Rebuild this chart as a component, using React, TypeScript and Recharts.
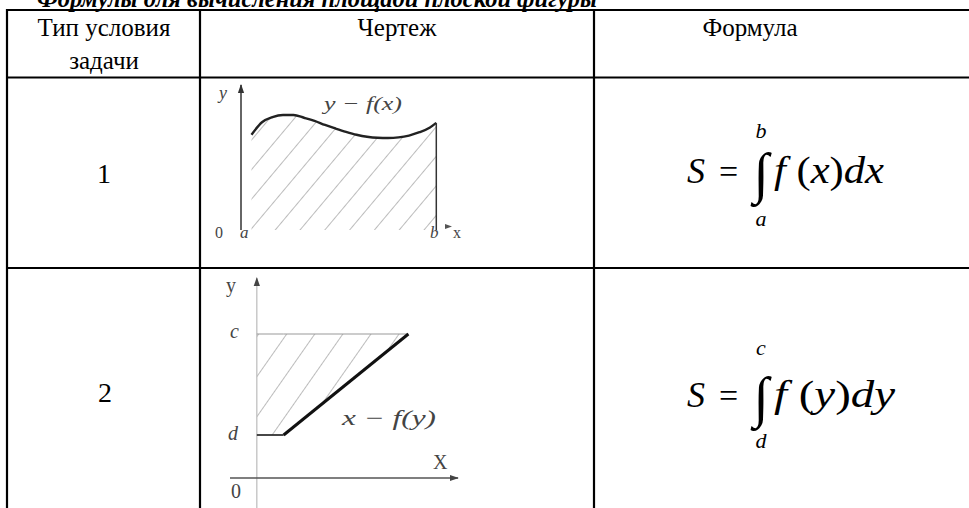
import React from 'react';
import { ComposedChart, Area, Line, XAxis, YAxis, ReferenceLine } from 'recharts';

// заголовок и шапка таблицы
const title = 'Формулы для вычисления площади плоской фигуры';
const headerType = ['Тип условия', 'задачи'];
const headerDrawing = 'Чертеж';
const headerFormula = 'Формула';
const rowLabels = ['1', '2'];

// чертеж 1: криволинейная трапеция под y = f(x) на [a, b]
const curveX = [0.5, 1, 1.5, 2, 2.5, 3, 3.5, 4, 4.5, 5, 5.5, 6, 6.5, 7, 7.5, 8, 8.5, 9, 9.3];
const curveY = [4.6, 5.2, 5.45, 5.55, 5.55, 5.42, 5.27, 5.07, 4.9, 4.74, 4.6, 4.5, 4.45, 4.44, 4.47, 4.56, 4.72, 4.95, 5.17];
const plot1X = [0, 10];
const plot1Y = [0, 7];

// чертеж 2: область между осью Oy и x = f(y) на [d, c]
const fig2X = [0, 2, 11.3];
const fig2Low = [4.3, 4.3, 14.4];
const fig2High = [14.4, 14.4, 14.4];
const fig2DLine = [4.3, 4.3, null];
const fig2FLine = [null, 4.3, 14.4];
const fig2CLine = [14.4, 14.4, 14.4];
const plot2X = [-2, 15];
const plot2Y = [-3, 20];

const data1 = curveX.map((x, i) => ({ x, y: curveY[i] }));
const data2 = fig2X.map((x, i) => ({
  x,
  region: [fig2Low[i], fig2High[i]],
  dLine: fig2DLine[i],
  fLine: fig2FLine[i],
  cLine: fig2CLine[i],
}));

const serif = { fontFamily: "'Liberation Serif', serif" };

const Arrow = ({ id, color }: { id: string; color: string }) => (
  <marker id={id} viewBox="0 0 10 10" refX="9" refY="5" markerWidth="9" markerHeight="9" orient="auto" markerUnits="userSpaceOnUse">
    <path d="M0,1.5 L10,5 L0,8.5 z" fill={color} />
  </marker>
);

const FigureOne = () => {
  const b = curveX[curveX.length - 1];
  const fb = curveY[curveY.length - 1];
  return (
    <div style={{ position: 'absolute', left: 231, top: 75 }}>
      <ComposedChart width={230} height={165} data={data1} margin={{ top: 10, right: 10, bottom: 10, left: 10 }}>
        <defs>
          <pattern id="hatch1" width="19" height="19" patternUnits="userSpaceOnUse" patternTransform="rotate(40)">
            <line x1="0" y1="0" x2="0" y2="19" stroke="#7a7a7a" strokeWidth="1" />
          </pattern>
          <Arrow id="arr1" color="#333" />
        </defs>
        <XAxis type="number" dataKey="x" domain={plot1X} hide allowDataOverflow />
        <YAxis type="number" domain={plot1Y} hide allowDataOverflow />
        <Area type="monotone" dataKey="y" baseValue={0} fill="url(#hatch1)" fillOpacity={1} stroke="none" isAnimationActive={false} />
        <Line type="monotone" dataKey="y" stroke="#222" strokeWidth={2.4} dot={false} isAnimationActive={false} />
        <ReferenceLine segment={[{ x: plot1X[0], y: plot1Y[0] }, { x: plot1X[0], y: plot1Y[1] }]} stroke="#333" strokeWidth={1.5} markerEnd="url(#arr1)" ifOverflow="visible" />
        <ReferenceLine segment={[{ x: b, y: 0 }, { x: b, y: fb }]} stroke="#333" strokeWidth={1.5} ifOverflow="visible" />
      </ComposedChart>
    </div>
  );
};

const FigureTwo = () => (
  <div style={{ position: 'absolute', left: 220, top: 268 }}>
    <ComposedChart width={248} height={250} data={data2} margin={{ top: 10, right: 10, bottom: 10, left: 10 }}>
      <defs>
        <pattern id="hatch2" width="23" height="23" patternUnits="userSpaceOnUse" patternTransform="rotate(35)">
          <line x1="0" y1="0" x2="0" y2="23" stroke="#7a7a7a" strokeWidth="1" />
        </pattern>
        <Arrow id="arr2" color="#444" />
      </defs>
      <XAxis type="number" dataKey="x" domain={plot2X} hide allowDataOverflow />
      <YAxis type="number" domain={plot2Y} hide allowDataOverflow />
      <Area type="linear" dataKey="region" fill="url(#hatch2)" fillOpacity={1} stroke="none" isAnimationActive={false} />
      <ReferenceLine segment={[{ x: 0, y: plot2Y[0] }, { x: 0, y: plot2Y[1] }]} stroke="#bbb" strokeWidth={1.2} markerEnd="url(#arr2)" ifOverflow="visible" />
      <ReferenceLine segment={[{ x: plot2X[0], y: 0 }, { x: plot2X[1], y: 0 }]} stroke="#555" strokeWidth={1.5} markerEnd="url(#arr2)" ifOverflow="visible" />
      <Line type="linear" dataKey="cLine" stroke="#999" strokeWidth={1} dot={false} isAnimationActive={false} />
      <Line type="linear" dataKey="dLine" stroke="#333" strokeWidth={1.8} dot={false} isAnimationActive={false} />
      <Line type="linear" dataKey="fLine" stroke="#111" strokeWidth={3} dot={false} isAnimationActive={false} />
    </ComposedChart>
  </div>
);

const Formula = ({ y, varName, lo, hi, intBase, hiY, loY, width }: {
  y: number; varName: string; lo: string; hi: string; intBase: number; hiY: number; loY: number; width: number;
}) => (
  <g style={serif} fill="#000">
    <text x={687} y={y} fontSize={36} fontStyle="italic">S</text>
    <text x={719} y={y} fontSize={34}>=</text>
    <text x={761} y={intBase} fontSize={56} textAnchor="middle">∫</text>
    <text x={761} y={hiY} fontSize={22} fontStyle="italic" textAnchor="middle">{hi}</text>
    <text x={761} y={loY} fontSize={22} fontStyle="italic" textAnchor="middle">{lo}</text>
    <text x={774} y={y} fontSize={37} textLength={width} lengthAdjust="spacingAndGlyphs">
      <tspan fontStyle="italic">f</tspan> (<tspan fontStyle="italic">{varName}</tspan>)<tspan fontStyle="italic">d{varName}</tspan>
    </text>
  </g>
);

export default function App() {
  return (
    <div style={{ position: 'fixed', left: 0, top: 0, width: 969, height: 508, overflow: 'hidden', background: '#fff', ...serif }}>
      <FigureOne />
      <FigureTwo />
      <svg width={969} height={508} style={{ position: 'absolute', left: 0, top: 0, pointerEvents: 'none' }}>
        <text x={37} y={7} style={serif} fontSize={26} fontWeight="bold" fontStyle="italic" textLength={560} lengthAdjust="spacingAndGlyphs">{title}</text>

        {/* линии таблицы */}
        <g stroke="#000" strokeWidth={2.2}>
          <line x1={6} y1={10} x2={969} y2={10} />
          <line x1={6} y1={77.5} x2={969} y2={77.5} />
          <line x1={6} y1={268} x2={969} y2={268} />
          <line x1={7} y1={9} x2={7} y2={508} />
          <line x1={200} y1={9} x2={200} y2={508} />
          <line x1={594} y1={9} x2={594} y2={508} />
        </g>

        <g style={serif} fontSize={25} fill="#000" textAnchor="middle">
          <text x={104} y={36}>{headerType[0]}</text>
          <text x={104} y={69}>{headerType[1]}</text>
          <text x={397} y={36}>{headerDrawing}</text>
          <text x={750} y={36}>{headerFormula}</text>
          <text x={104} y={183} fontSize={28}>{rowLabels[0]}</text>
          <text x={105} y={402} fontSize={28}>{rowLabels[1]}</text>
        </g>

        {/* подписи чертежа 1 */}
        <g style={serif} fill="#444" fontSize={18}>
          <text x={219} y={99} fontStyle="italic">y</text>
          <text x={324} y={110} fontSize={19} fontStyle="italic" textLength={78} lengthAdjust="spacingAndGlyphs">y − f(x)</text>
          <text x={215} y={238} fontSize={16}>0</text>
          <text x={240} y={238} fontStyle="italic" fontSize={17}>a</text>
          <text x={430} y={238} fontStyle="italic" fontSize={17}>b</text>
          <text x={453} y={238} fontSize={16}>x</text>
          <path d="M445,224 L452,226.5 L445,229 z" fill="#555" />
        </g>

        {/* подписи чертежа 2 */}
        <g style={serif} fill="#444" fontSize={20}>
          <text x={226} y={292}>y</text>
          <text x={230} y={338} fontStyle="italic">c</text>
          <text x={228} y={440} fontStyle="italic">d</text>
          <text x={342} y={425} fontSize={21} fontStyle="italic" textLength={94} lengthAdjust="spacingAndGlyphs">x − f(y)</text>
          <text x={433} y={469}>X</text>
          <text x={231} y={498}>0</text>
        </g>

        <Formula y={183} varName="x" lo="a" hi="b" intBase={192} hiY={138} loY={226} width={110} />
        <Formula y={407} varName="y" lo="d" hi="c" intBase={416} hiY={355} loY={448} width={121} />
      </svg>
    </div>
  );
}
